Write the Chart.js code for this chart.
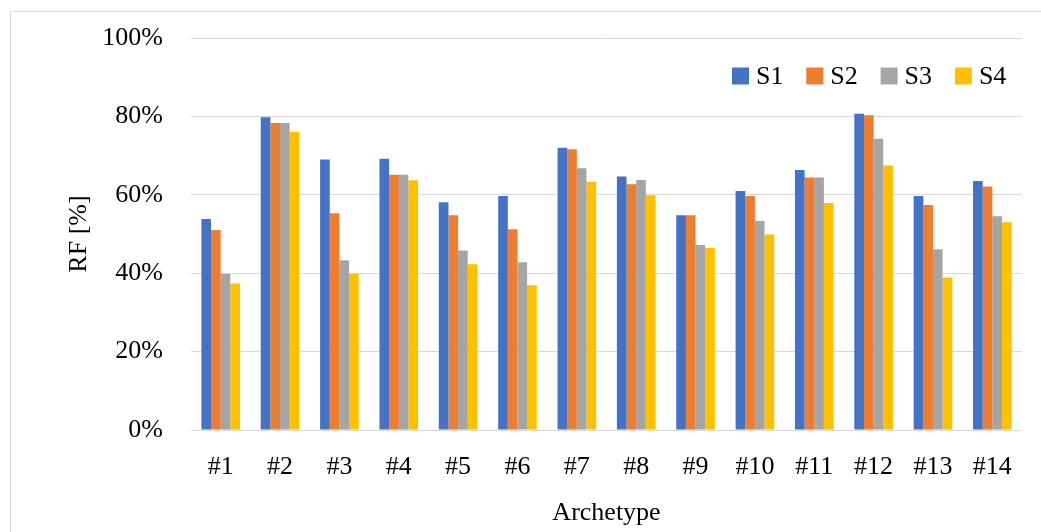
<!DOCTYPE html>
<html lang="en">
  <head>
    <meta charset="UTF-8" />
    <title>RF by archetype</title>
    <script src="https://cdn.jsdelivr.net/npm/chart.js"></script>
    <style>
      body { margin: 0; background: #fff; overflow: hidden; }
    </style>
  </head>
  <body>
    <canvas id="myChart" width="1041" height="532"></canvas>

    <script>
      const archetypes = ["#1", "#2", "#3", "#4", "#5", "#6", "#7", "#8", "#9", "#10", "#11", "#12", "#13", "#14"];
      const s1 = [53.8, 79.8, 69.0, 69.2, 58.1, 59.7, 72.0, 64.7, 54.8, 61.0, 66.3, 80.7, 59.7, 63.5];
      const s2 = [51.0, 78.3, 55.3, 65.1, 54.8, 51.2, 71.6, 62.7, 54.8, 59.7, 64.4, 80.3, 57.4, 62.1];
      const s3 = [39.8, 78.3, 43.3, 65.1, 45.8, 42.8, 66.8, 63.8, 47.2, 53.3, 64.4, 74.3, 46.1, 54.5];
      const s4 = [37.4, 76.1, 39.8, 63.7, 42.3, 36.9, 63.3, 59.9, 46.4, 49.9, 57.9, 67.5, 38.9, 53.0];
      const seriesNames = ["S1", "S2", "S3", "S4"];
      const colors = ["#4472C4", "#ED7D31", "#A5A5A5", "#FFC000"];

      const fontFamily = "'Liberation Serif', 'Times New Roman', serif";
      const textColor = "#000";
      const gridColor = "#d9d9d9";

      // outer frame + legend drawn inside the plot area (top right)
      const framePlugin = {
        id: "frame",
        beforeDraw(chart) {
          const ctx = chart.ctx;
          ctx.save();
          ctx.strokeStyle = gridColor;
          ctx.lineWidth = 1;
          ctx.strokeRect(10.5, 11.5, 1200, 800);
          ctx.restore();
        },
        afterDraw(chart) {
          const ctx = chart.ctx;
          const area = chart.chartArea;
          ctx.save();
          ctx.font = "26px " + fontFamily;
          ctx.textBaseline = "middle";
          ctx.textAlign = "left";
          const box = 17, gap = 7, step = 74.3;
          const cy = area.top + 38;
          let x = area.right - 290;
          chart.data.datasets.forEach((ds) => {
            ctx.fillStyle = ds.backgroundColor;
            ctx.fillRect(x, cy - box / 2, box, box);
            ctx.fillStyle = textColor;
            ctx.fillText(ds.label, x + box + gap, cy + 1);
            x += step;
          });
          ctx.restore();
        },
      };

      const config = {
        type: "bar",
        data: {
          labels: archetypes,
          datasets: [s1, s2, s3, s4].map((d, i) => ({
            label: seriesNames[i],
            data: d,
            backgroundColor: colors[i],
            borderWidth: 0,
            categoryPercentage: 0.65,
            barPercentage: 1.0,
          })),
        },
        options: {
          responsive: false,
          devicePixelRatio: 1,
          animation: false,
          layout: { padding: { top: 38, right: 19, bottom: 0, left: 0 } },
          plugins: {
            legend: { display: false },
            tooltip: { enabled: false },
          },
          scales: {
            x: {
              grid: { display: false, drawTicks: false },
              border: { display: false },
              ticks: {
                color: textColor,
                padding: 22,
                font: { family: fontFamily, size: 26 },
                maxRotation: 0,
              },
              title: {
                display: true,
                text: "Archetype",
                color: textColor,
                font: { family: fontFamily, size: 26 },
                padding: { top: 0, bottom: 3 },
              },
              afterFit(scale) {
                scale.height = 102;
              },
            },
            y: {
              min: 0,
              max: 100,
              grid: { color: gridColor, lineWidth: 1, drawTicks: false },
              border: { display: false },
              ticks: {
                stepSize: 20,
                color: textColor,
                padding: 28,
                font: { family: fontFamily, size: 26 },
                callback: (v) => v + "%",
              },
              title: {
                display: true,
                text: "RF [%]",
                color: textColor,
                font: { family: fontFamily, size: 26 },
                padding: { top: 64, bottom: 0 },
              },
              afterFit(scale) {
                scale.width = 191;
                scale.paddingTop = 0;
                scale.paddingBottom = 0;
              },
            },
          },
        },
        plugins: [framePlugin],
      };

      new Chart(document.getElementById("myChart"), config);
    </script>
  </body>
</html>
